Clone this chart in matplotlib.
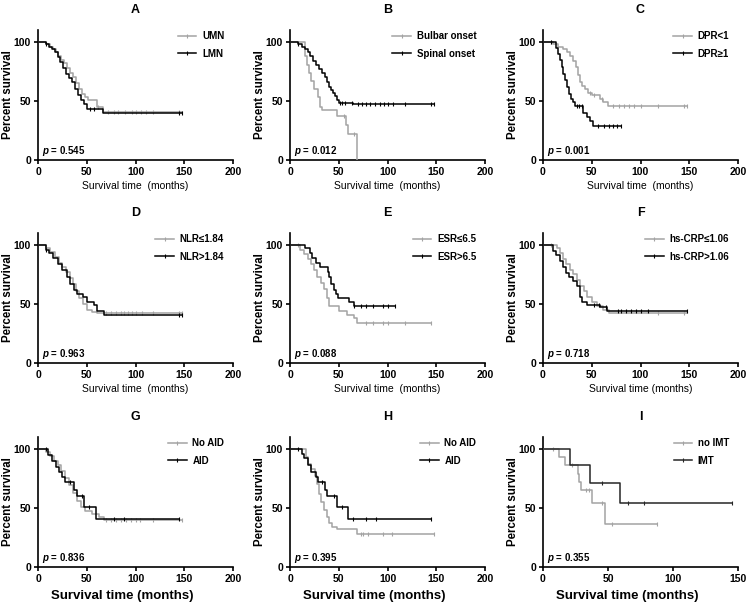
import numpy as np
import matplotlib.pyplot as plt
from matplotlib.lines import Line2D

plt.rcParams['font.family'] = ['Liberation Sans', 'DejaVu Sans']
plt.rcParams['mathtext.fontset'] = 'custom'
plt.rcParams['mathtext.it'] = 'Liberation Sans:italic:bold'
plt.rcParams['mathtext.rm'] = 'Liberation Sans:bold'

GRAY = '#a3a3a3'
BLACK = '#000000'

# ---- data: step times (months) and percent survival after each step ----
# A
a_umn_t = [0, 8, 12, 15, 18, 21, 24, 27, 30, 33, 36, 39, 42, 45, 48, 51, 60, 67, 148]
a_umn_s = [100, 98, 96, 94, 91, 88, 85, 82, 78, 74, 70, 65, 60, 56, 53, 51, 45, 41, 41]
a_umn_c = [62, 72, 78, 82, 89, 96, 101, 106, 111, 118, 145]
a_lmn_t = [0, 8, 11, 14, 17, 20, 23, 26, 29, 32, 35, 38, 41, 44, 47, 50, 67, 148]
a_lmn_s = [100, 98, 96, 94, 91, 87, 83, 78, 73, 69, 66, 60, 55, 51, 47, 43, 40, 40]
a_lmn_c = [8, 53, 57, 145, 148]
# B
b_bul_t = [0, 15, 17, 19, 22, 25, 29, 31, 33, 37, 48, 57, 59, 69]
b_bul_s = [100, 88, 80, 74, 67, 60, 53, 45, 42, 42, 37, 30, 22, 0]
b_bul_c = [55, 66]
b_spi_t = [0, 8, 12, 15, 18, 21, 24, 27, 30, 33, 36, 38, 40, 42, 44, 46, 48, 50, 65, 148]
b_spi_s = [100, 98, 96, 94, 91, 88, 84, 80, 77, 74, 70, 66, 62, 59, 57, 54, 51, 48, 47, 47]
b_spi_c = [8, 51, 53, 56, 64, 70, 74, 78, 82, 87, 92, 96, 101, 106, 118, 145, 148]
# C
c_lo_t = [0, 10, 15, 20, 25, 28, 31, 34, 36, 38, 40, 43, 46, 50, 58, 62, 67, 148]
c_lo_s = [100, 98, 96, 94, 91, 88, 84, 79, 72, 66, 63, 60, 57, 55, 52, 49, 46, 46]
c_lo_c = [8, 48, 52, 60, 72, 78, 83, 88, 93, 100, 118, 145, 148]
c_hi_t = [0, 13, 15, 17, 19, 21, 23, 25, 27, 29, 31, 33, 41, 45, 48, 51, 80]
c_hi_s = [100, 95, 90, 85, 79, 73, 68, 62, 56, 52, 49, 46, 40, 36, 33, 29, 29]
c_hi_c = [8, 35, 37, 40, 56, 63, 68, 72, 76, 80]
# D
d_lo_t = [0, 8, 12, 17, 22, 25, 29, 33, 36, 39, 42, 46, 50, 55, 60, 148]
d_lo_s = [100, 97, 94, 90, 85, 81, 77, 72, 67, 61, 55, 50, 45, 43, 42, 42]
d_lo_c = [70, 75, 80, 85, 88, 92, 96, 100, 107, 118, 145, 148]
d_hi_t = [0, 8, 11, 15, 20, 25, 30, 33, 37, 40, 46, 50, 57, 61, 68, 148]
d_hi_s = [100, 96, 93, 89, 84, 79, 73, 67, 62, 58, 56, 52, 49, 44, 41, 41]
d_hi_c = [8, 145, 148]
# E
e_lo_t = [0, 10, 14, 18, 22, 25, 28, 32, 35, 38, 40, 50, 58, 66, 69, 145]
e_lo_s = [100, 96, 92, 88, 84, 79, 73, 68, 63, 55, 48, 44, 41, 38, 34, 34]
e_lo_c = [8, 78, 85, 95, 101, 118, 145]
e_hi_t = [0, 15, 20, 23, 27, 31, 39, 40, 42, 45, 47, 49, 60, 66, 108]
e_hi_s = [100, 97, 93, 89, 85, 81, 77, 73, 67, 62, 58, 55, 52, 48, 48]
e_hi_c = [66, 73, 78, 85, 95, 101, 108]
# F
f_lo_t = [0, 14, 17, 20, 24, 28, 31, 35, 38, 42, 45, 50, 55, 62, 68, 148]
f_lo_s = [100, 97, 93, 88, 84, 79, 75, 70, 65, 61, 56, 52, 48, 45, 42, 42]
f_lo_c = [8, 118, 145]
f_hi_t = [0, 10, 13, 17, 20, 24, 27, 31, 35, 38, 40, 45, 58, 66, 148]
f_hi_s = [100, 95, 91, 86, 81, 76, 73, 69, 65, 56, 52, 49, 47, 44, 44]
f_hi_c = [52, 57, 65, 77, 80, 85, 90, 95, 100, 108, 148]
# G
g_no_t = [0, 8, 12, 16, 20, 24, 28, 32, 36, 40, 44, 48, 55, 63, 68, 148]
g_no_s = [100, 97, 94, 90, 86, 81, 75, 69, 63, 56, 51, 47, 45, 42, 40, 40]
g_no_c = [70, 75, 80, 85, 90, 95, 100, 105, 118, 148]
g_aid_t = [0, 10, 14, 18, 22, 25, 28, 37, 40, 47, 59, 145]
g_aid_s = [100, 95, 90, 85, 80, 76, 72, 65, 60, 51, 41, 41]
g_aid_c = [8, 33, 45, 52, 78, 88, 145]
# H
h_no_t = [0, 16, 18, 22, 26, 28, 30, 32, 35, 38, 40, 43, 48, 69, 148]
h_no_s = [100, 93, 87, 83, 77, 70, 62, 55, 48, 42, 37, 34, 32, 28, 28]
h_no_c = [73, 75, 80, 95, 105, 148]
h_aid_t = [0, 12, 14, 18, 22, 27, 29, 36, 38, 48, 59, 145]
h_aid_s = [100, 96, 92, 86, 80, 76, 72, 65, 60, 51, 41, 41]
h_aid_c = [8, 33, 45, 53, 65, 78, 88, 145]
# I
i_no_t = [0, 12, 17, 27, 28, 29, 38, 48, 88]
i_no_s = [100, 93, 86, 79, 72, 65, 54, 36, 36]
i_no_c = [8, 22, 33, 35, 45, 53, 88]
i_imt_t = [0, 21, 36, 59, 145]
i_imt_s = [100, 86, 71, 54, 54]
i_imt_c = [45, 65, 78, 145]

panel_letters = ['A', 'B', 'C', 'D', 'E', 'F', 'G', 'H', 'I']
legend_labels = [
    ('UMN', 'LMN'), ('Bulbar onset', 'Spinal onset'), ('DPR<1', 'DPR\u22651'),
    ('NLR\u22641.84', 'NLR>1.84'), ('ESR\u22646.5', 'ESR>6.5'),
    ('hs-CRP\u22641.06', 'hs-CRP>1.06'),
    ('No AID', 'AID'), ('No AID', 'AID'), ('no IMT', 'IMT'),
]
p_values = ['0.545', '0.012', '0.001', '0.963', '0.088', '0.718', '0.836', '0.395', '0.355']
xlabels = ['Survival time  (months)'] * 5 + ['Survival time (months)'] * 4
curves = [
    ((a_umn_t, a_umn_s, a_umn_c), (a_lmn_t, a_lmn_s, a_lmn_c)),
    ((b_bul_t, b_bul_s, b_bul_c), (b_spi_t, b_spi_s, b_spi_c)),
    ((c_lo_t, c_lo_s, c_lo_c), (c_hi_t, c_hi_s, c_hi_c)),
    ((d_lo_t, d_lo_s, d_lo_c), (d_hi_t, d_hi_s, d_hi_c)),
    ((e_lo_t, e_lo_s, e_lo_c), (e_hi_t, e_hi_s, e_hi_c)),
    ((f_lo_t, f_lo_s, f_lo_c), (f_hi_t, f_hi_s, f_hi_c)),
    ((g_no_t, g_no_s, g_no_c), (g_aid_t, g_aid_s, g_aid_c)),
    ((h_no_t, h_no_s, h_no_c), (h_aid_t, h_aid_s, h_aid_c)),
    ((i_no_t, i_no_s, i_no_c), (i_imt_t, i_imt_s, i_imt_c)),
]


def surv_at(t, s, ct):
    idx = np.searchsorted(t, ct, side='right') - 1
    return np.asarray(s)[idx]


fig = plt.figure(figsize=(7.5, 6.04), dpi=100)
lefts = [38 / 750, 290 / 750, 543 / 750]
bottoms = [1 - 160 / 604, 1 - 363 / 604, 1 - 567 / 604]
W, H = 195 / 750, 130 / 604

for k in range(9):
    row, col = divmod(k, 3)
    ax = fig.add_axes([lefts[col], bottoms[row], W, H])
    xmax = 150 if k == 8 else 200
    colors = [GRAY, '#262626' if k == 8 else BLACK]
    handles = []
    for (t, s, c), colr in zip(curves[k], colors):
        ax.step(t, s, where='post', color=colr, lw=1.1, zorder=3)
        ax.plot(c, surv_at(t, s, c), ls='none', marker='|', ms=3.5,
                mew=0.8, color=colr, zorder=3)
        handles.append(Line2D([0], [0], color=colr, lw=1.1, marker='|',
                              ms=3.5, mew=0.8))
    ax.set_xlim(0, xmax)
    ax.set_ylim(0, 110)
    ax.set_xticks(np.arange(0, xmax + 1, 50))
    ax.set_yticks([0, 50, 100])
    for sp in ['top', 'right']:
        ax.spines[sp].set_visible(False)
    for sp in ['left', 'bottom']:
        ax.spines[sp].set_linewidth(1.2)
    ax.tick_params(length=3, width=1.2, labelsize=7.5, pad=2)
    for lab in ax.get_xticklabels() + ax.get_yticklabels():
        lab.set_fontweight('bold')
    ax.set_ylabel('Percent survival', fontsize=8.3, fontweight='bold')
    ax.yaxis.set_label_coords(-0.125, 0.5)
    if row == 2:
        ax.set_xlabel(xlabels[k], fontsize=9.5, fontweight='bold')
        ax.xaxis.set_label_coords(0.43, -0.175)
    else:
        ax.set_xlabel(xlabels[k], fontsize=7.5, labelpad=3)
    ax.set_title(panel_letters[k], fontsize=9, fontweight='bold', pad=12)
    ax.text(0.02 * xmax, 8, r'$p$ = ' + p_values[k], fontsize=7,
            fontweight='bold', va='center', ha='left')
    ax.legend(handles, legend_labels[k], loc='upper right',
              bbox_to_anchor=(1.0, 1.06), frameon=False, handlelength=1.9,
              handletextpad=0.6, labelspacing=0.8,
              prop={'size': 7, 'weight': 'bold'})

fig.savefig('out.png', dpi=100)
